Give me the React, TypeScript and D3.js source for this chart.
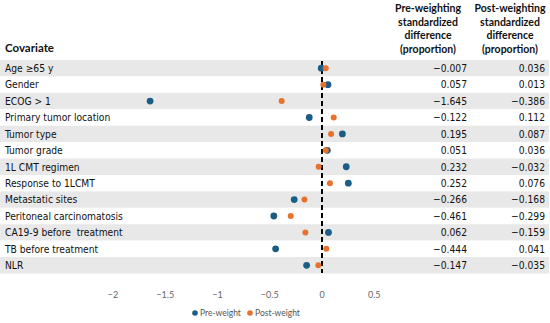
import React from "react";
import * as d3 from "d3";

const covariates = [
  "Age ≥65 y",
  "Gender",
  "ECOG > 1",
  "Primary tumor location",
  "Tumor type",
  "Tumor grade",
  "1L CMT regimen",
  "Response to 1LCMT",
  "Metastatic sites",
  "Peritoneal carcinomatosis",
  "CA19-9 before  treatment",
  "TB before treatment",
  "NLR",
];
const preWeight = [-0.007, 0.057, -1.645, -0.122, 0.195, 0.051, 0.232, 0.252, -0.266, -0.461, 0.062, -0.444, -0.147];
const postWeight = [0.036, 0.013, -0.386, 0.112, 0.087, 0.036, -0.032, 0.076, -0.168, -0.299, -0.159, 0.041, -0.035];
const xTicks = [-2, -1.5, -1, -0.5, 0, 0.5];
const preHeader = ["Pre-weighting", "standardized", "difference", "(proportion)"];
const postHeader = ["Post-weighting", "standardized", "difference", "(proportion)"];

const W = 550, H = 323;
const PRE_COLOR = "#1a5e85";
const POST_COLOR = "#e8722d";
const rowFont = "'DejaVu Sans Condensed', 'DejaVu Sans', sans-serif";
const headFont = "Lato, 'Open Sans', 'Noto Sans', sans-serif";

function fmt(v: number) {
  const s = v.toFixed(3);
  return v < 0 ? "\u2212" + s.slice(1) : s;
}

export default function App() {
  const x = d3.scaleLinear().domain([0, 1]).range([322, 426.5]);
  const y = d3.scaleBand<string>().domain(covariates).range([60, 273.5]).padding(0);
  const bw = y.bandwidth();

  return (
    <svg width={W} height={H} style={{ position: "absolute", left: 0, top: 0, background: "#fff" }}>
      {covariates.map((c, i) => (
        <rect key={"b" + i} x={0} y={y(c)!} width={549} height={bw} fill={i % 2 === 0 ? "#e8e8e8" : "#ffffff"} />
      ))}
      <text x={5} y={52} fontFamily={headFont} fontWeight="bold" fontSize={11.5} fill="#111">Covariate</text>
      {preHeader.map((t, i) => (
        <text key={"ph" + i} x={428} y={12 + i * 13.5} textAnchor="middle" fontFamily={headFont} fontWeight="bold" fontSize={10.5} fill="#111">{t}</text>
      ))}
      {postHeader.map((t, i) => (
        <text key={"qh" + i} x={510} y={12 + i * 13.5} textAnchor="middle" fontFamily={headFont} fontWeight="bold" fontSize={10.5} fill="#111">{t}</text>
      ))}
      {covariates.map((c, i) => {
        const cy = y(c)! + bw / 2;
        return (
          <g key={"r" + i}>
            <text x={5} y={cy + 3.8} fontFamily={rowFont} fontSize={10.2} fill="#111" style={{ whiteSpace: "pre" }}>{c}</text>
            <text x={467} y={cy + 3.8} textAnchor="end" fontFamily={rowFont} fontSize={10.2} fill="#111">{fmt(preWeight[i])}</text>
            <text x={545} y={cy + 3.8} textAnchor="end" fontFamily={rowFont} fontSize={10.2} fill="#111">{fmt(postWeight[i])}</text>
          </g>
        );
      })}
      <line x1={x(0)} x2={x(0)} y1={61} y2={273} stroke="#000" strokeWidth={2} strokeDasharray="5,3" />
      {covariates.map((c, i) => {
        const cy = y(c)! + bw / 2;
        return (
          <g key={"d" + i}>
            <circle cx={x(preWeight[i])} cy={cy} r={3.4} fill={PRE_COLOR} />
            <circle cx={x(postWeight[i])} cy={cy} r={3} fill={POST_COLOR} />
          </g>
        );
      })}
      {xTicks.map((t, i) => (
        <text key={"t" + i} x={x(t)} y={298} textAnchor="middle" fontFamily={headFont} fontSize={9} fill="#666">{t < 0 ? "\u2212" + String(-t) : String(t)}</text>
      ))}
      <circle cx={195} cy={313} r={2.8} fill={PRE_COLOR} />
      <text x={200} y={316} fontFamily={headFont} fontSize={8.5} fill="#555">Pre-weight</text>
      <circle cx={250} cy={313} r={2.8} fill={POST_COLOR} />
      <text x={255} y={316} fontFamily={headFont} fontSize={8.5} fill="#555">Post-weight</text>
    </svg>
  );
}
